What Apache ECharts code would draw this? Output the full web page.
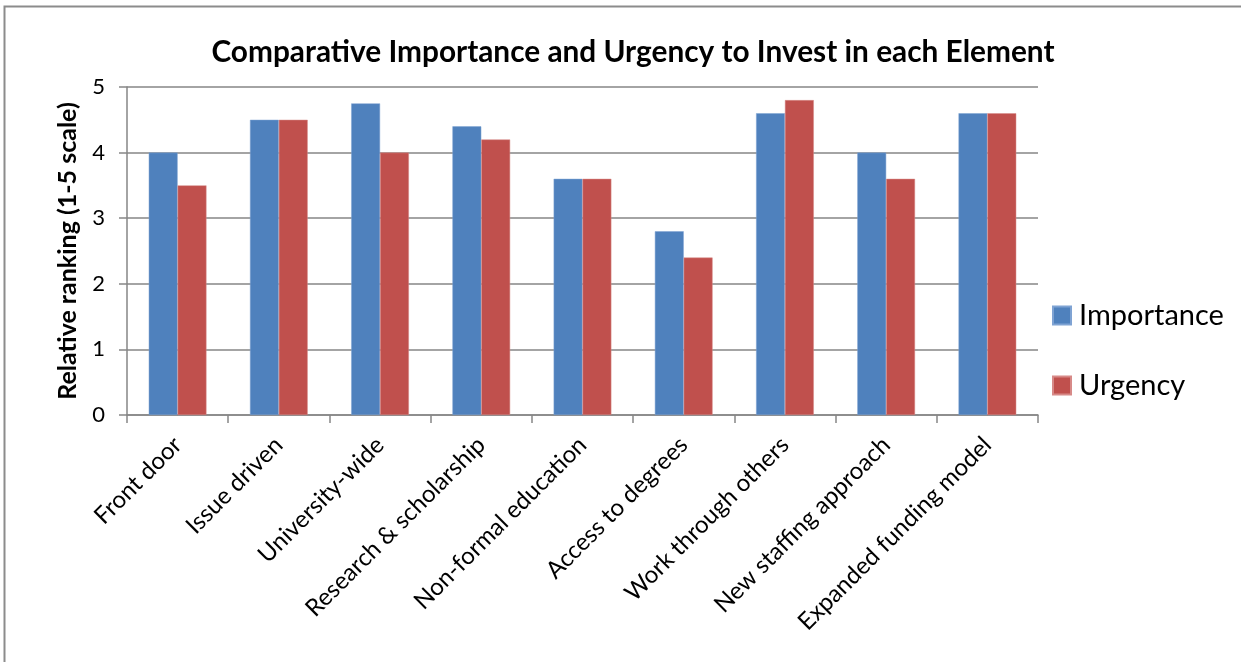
<!DOCTYPE html>
<html>
<head>
<meta charset="utf-8">
<script src="https://cdn.jsdelivr.net/npm/echarts@6/dist/echarts.min.js"></script>
<style>
html,body{margin:0;padding:0;background:#fff;}
#main{width:1241px;height:662px;}
</style>
</head>
<body>
<div id="main"></div>
<script>
const categories = ["Front door","Issue driven","University-wide","Research & scholarship","Non-formal education","Access to degrees","Work through others","New staffing approach","Expanded funding model"];
const importance = [4.0, 4.5, 4.75, 4.4, 3.6, 2.8, 4.6, 4.0, 4.6];
const urgency = [3.5, 4.5, 4.0, 4.2, 3.6, 2.4, 4.8, 3.6, 4.6];
const yTicks = [0, 1, 2, 3, 4, 5];

const FONT = 'Lato, "Open Sans", sans-serif';
const chart = echarts.init(document.getElementById('main'), null, {renderer:'canvas'});
chart.setOption({
  backgroundColor: '#ffffff',
  animation: false,
  title: {
    text: 'Comparative Importance and Urgency to Invest in each Element',
    left: 628, top: 32, textAlign: 'center',
    textStyle: {fontFamily: FONT, fontWeight: 'bold', fontSize: 29.8, color: '#000'}
  },
  graphic: [{
    type: 'rect', shape: {x: 4.5, y: 6.5, width: 1400, height: 800},
    style: {fill: 'none', stroke: '#8c8c8c', lineWidth: 2}, silent: true
  }],
  legend: {
    orient: 'vertical', left: 1052, top: 301, padding: 0,
    icon: 'rect', itemWidth: 18, itemHeight: 18, itemGap: 41,
    textStyle: {fontFamily: FONT, fontSize: 29, color: '#000', padding: [0,0,0,3]},
    data: ['Importance', 'Urgency']
  },
  grid: {left: 127, right: 203, top: 87, bottom: 247, containLabel: false},
  xAxis: {
    type: 'category', data: categories,
    axisLine: {lineStyle: {color: '#868686', width: 1.5}},
    axisTick: {show: true, length: 8, alignWithLabel: false, lineStyle: {color: '#868686', width: 1.5}},
    axisLabel: {rotate: 45, fontFamily: FONT, fontSize: 24, color: '#000', margin: 26, interval: 0}
  },
  yAxis: {
    type: 'value', min: yTicks[0], max: yTicks[yTicks.length-1], interval: 1,
    name: 'Relative ranking (1-5 scale)', nameLocation: 'middle', nameGap: 47, nameRotate: 90,
    nameTextStyle: {fontFamily: FONT, fontWeight: 'bold', fontSize: 25, color: '#000'},
    axisLine: {show: true, lineStyle: {color: '#868686', width: 1.5}},
    axisTick: {show: true, length: 8, lineStyle: {color: '#868686', width: 1.5}},
    splitLine: {lineStyle: {color: '#868686', width: 1.5}},
    axisLabel: {fontFamily: FONT, fontSize: 22, color: '#000', margin: 22}
  },
  series: [
    {name: 'Importance', type: 'bar', data: importance, barGap: '0%', barCategoryGap: '43%',
     itemStyle: {color: '#4F81BD', borderColor: '#7fa3d3', borderWidth: 0.5}},
    {name: 'Urgency', type: 'bar', data: urgency, barGap: '0%', barCategoryGap: '43%',
     itemStyle: {color: '#C0504D', borderColor: '#d78a88', borderWidth: 0.5}}
  ]
});
</script>
</body>
</html>
